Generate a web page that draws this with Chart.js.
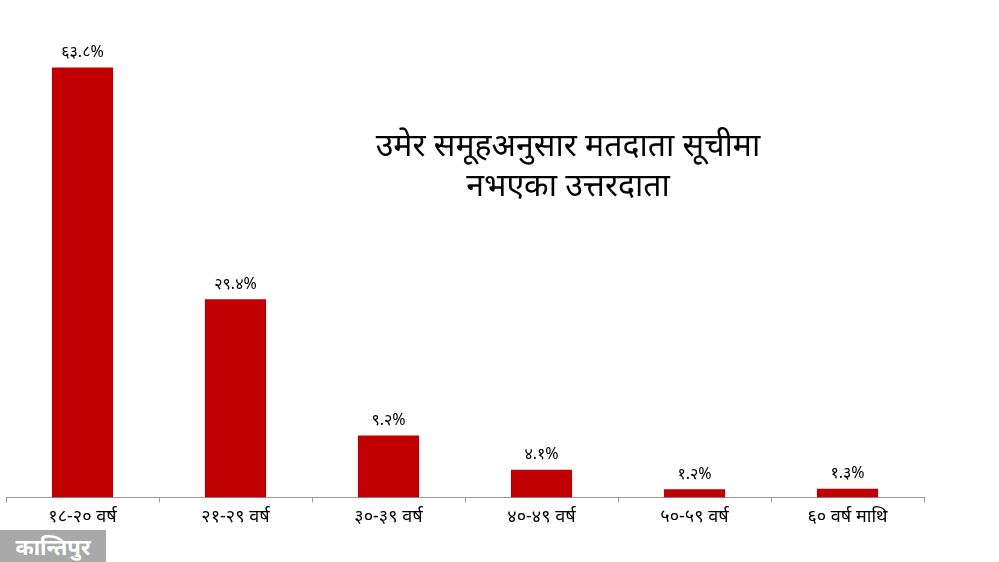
<!DOCTYPE html>
<html><head><meta charset="utf-8">
<script src="https://cdn.jsdelivr.net/npm/chart.js@4"></script>
<style>html,body{margin:0;padding:0;background:#fff}#w{position:relative;width:999px;height:562px}
#logo{position:absolute;left:0;top:530px;width:106px;height:32px;background:#a9a9a9;color:#fff;font:bold 22px "Noto Sans","Noto Sans Devanagari",sans-serif;text-align:center;line-height:32px}</style>
</head><body><div id="w"><canvas id="c" width="999" height="562"></canvas><div id="logo">कान्तिपुर</div></div>
<script>
const categories=["१८-२० वर्ष","२१-२९ वर्ष","३०-३९ वर्ष","४०-४९ वर्ष","५०-५९ वर्ष","६० वर्ष माथि"];
const values=[63.8,29.4,9.2,4.1,1.2,1.3];
const valueLabels=["६३.८%","२९.४%","९.२%","४.१%","१.२%","१.३%"];
const titleLines=["उमेर समूहअनुसार मतदाता सूचीमा","नभएका उत्तरदाता"];
const F='"Noto Sans","Noto Sans Devanagari",sans-serif';
const plug={id:'p',afterDatasetsDraw(ch){const c=ch.ctx;c.save();c.fillStyle='#000';c.textAlign='center';
c.font='16px '+F;c.textBaseline='bottom';
ch.getDatasetMeta(0).data.forEach((b,i)=>c.fillText(valueLabels[i],b.x,b.y-7));
c.font='32px '+F;c.textBaseline='middle';c.fillText(titleLines[0],568,147);c.fillText(titleLines[1],568,187);c.restore();}};
new Chart(document.getElementById('c'),{type:'bar',data:{labels:categories,datasets:[{data:values,backgroundColor:'#c00000',barPercentage:0.8,categoryPercentage:0.5}]},
options:{responsive:false,animation:false,layout:{padding:{left:6,right:75,top:0,bottom:30}},
plugins:{legend:{display:false},tooltip:{enabled:false}},
scales:{y:{display:false,min:0,max:73.8},x:{grid:{display:true,drawOnChartArea:false,tickLength:5,offset:true,color:'#999'},border:{color:'#999'},ticks:{color:'#000',font:{size:18,family:F},padding:4}}}},plugins:[plug]});
</script></body></html>
